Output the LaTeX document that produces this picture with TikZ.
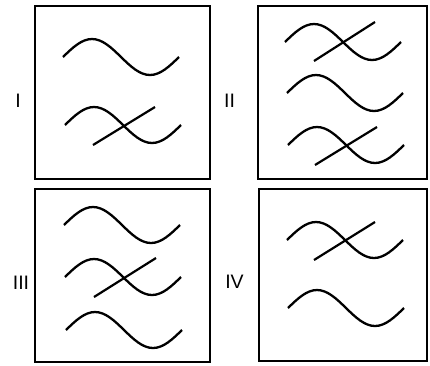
\documentclass[tikz,border=0pt]{standalone}
\usepackage{fontspec}
\setmainfont{Liberation Sans}

\begin{document}
\begin{tikzpicture}[
    x=1pt, y=-1pt,
    panel/.style={draw=black, line width=1.8pt, inner sep=0pt, minimum width=175pt, minimum height=173pt},
    roman/.style={font=\fontsize{19.5}{19.5}\selectfont, inner sep=0pt},
    wave/.style={draw=black, line width=2.3pt},
    strand/.style={draw=black, line width=2.2pt},
]
\useasboundingbox (0,0) rectangle (430,365);

% Rahmen
\node[panel] (boxI) at (122.5, 92.5) {};
\node[panel, minimum width=169pt] (boxII) at (342.5, 92.5) {};
\node[panel] (boxIII) at (122.5, 275.5) {};
\node[panel, minimum width=168pt, minimum height=172pt] (boxIV) at (343, 275) {};

% Beschriftung
\node[roman] (labI) at (18, 101) {I};
\node[roman] (labII) at (229.5, 101) {II};
\node[roman] (labIII) at (21, 283) {III};
\node[roman] (labIV) at (234.5, 282) {IV};

% Feld I
\draw[wave] (63,57) sin ++(29,-18) cos ++(29,18) sin ++(29,18) cos ++(29,-18);
\draw[wave] (65,125) sin ++(29,-18) cos ++(29,18) sin ++(29,18) cos ++(29,-18);
\draw[strand] (93,145) -- (155,107);

% Feld II
\draw[wave] (285,42) sin ++(29,-18) cos ++(29,18) sin ++(29,18) cos ++(29,-18);
\draw[strand] (314,61) -- (375,22);
\draw[wave] (287,93) sin ++(29,-18) cos ++(29,18) sin ++(29,18) cos ++(29,-18);
\draw[wave] (288,145) sin ++(29,-18) cos ++(29,18) sin ++(29,18) cos ++(29,-18);
\draw[strand] (315,165) -- (377,127);

% Feld III
\draw[wave] (64,225) sin ++(29,-18) cos ++(29,18) sin ++(29,18) cos ++(29,-18);
\draw[wave] (65,277) sin ++(29,-18) cos ++(29,18) sin ++(29,18) cos ++(29,-18);
\draw[strand] (94,297) -- (156,258);
\draw[wave] (66,330) sin ++(29,-18) cos ++(29,18) sin ++(29,18) cos ++(29,-18);

% Feld IV
\draw[wave] (287,240) sin ++(29,-18) cos ++(29,18) sin ++(29,18) cos ++(29,-18);
\draw[strand] (314,260) -- (375,222);
\draw[wave] (288,308) sin ++(29,-18) cos ++(29,18) sin ++(29,18) cos ++(29,-18);

\end{tikzpicture}
\end{document}
